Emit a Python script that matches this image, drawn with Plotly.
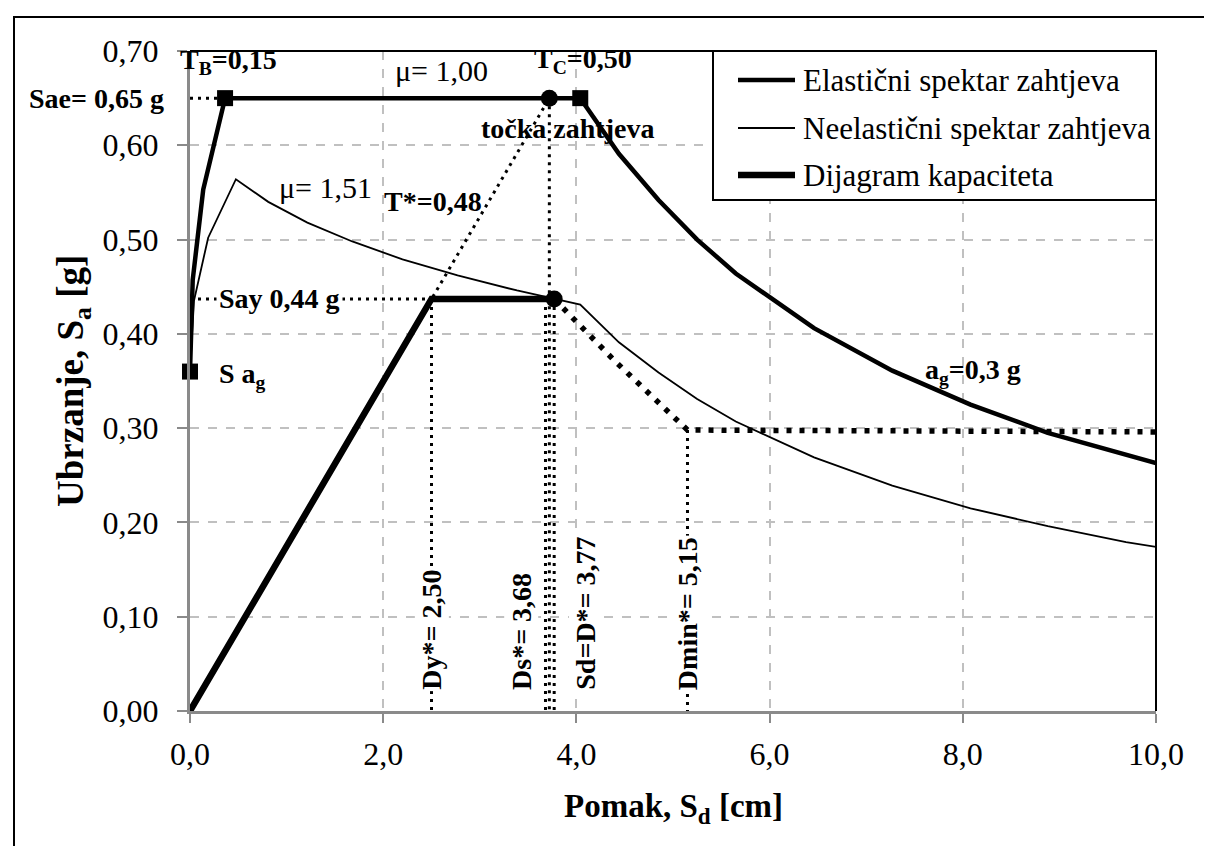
import plotly.graph_objects as go

# ---------------- data ----------------
elastic_sd = [0.0, 0.028, 0.137, 0.363, 4.04, 4.44, 4.85, 5.25, 5.65, 6.46, 7.27, 8.08, 8.88, 9.69, 10.0]
elastic_sa = [0.36, 0.457, 0.553, 0.65, 0.65, 0.591, 0.542, 0.500, 0.464, 0.406, 0.361, 0.325, 0.295, 0.271, 0.263]

inelastic_sd = [0.0, 0.041, 0.188, 0.475, 0.81, 1.215, 1.68, 2.20, 2.77, 3.385, 4.04,
                4.44, 4.85, 5.25, 5.65, 6.46, 7.27, 8.08, 8.88, 9.69, 10.0]
inelastic_sa = [0.36, 0.435, 0.502, 0.564, 0.540, 0.518, 0.498, 0.479, 0.462, 0.446, 0.431,
                0.391, 0.359, 0.331, 0.307, 0.269, 0.239, 0.215, 0.196, 0.179, 0.174]

capacity_sd = [0.0, 2.50, 3.77]
capacity_sa = [0.0, 0.437, 0.437]

demand_sd = [3.77, 4.40, 5.15, 10.0]
demand_sa = [0.437, 0.371, 0.298, 0.296]

tstar_sd = [0.0, 3.72]
tstar_sa = [0.0, 0.65]

square_sd = [0.0, 0.363, 4.04]
square_sa = [0.36, 0.65, 0.65]

circle_sd = [3.72, 3.77]
circle_sa = [0.65, 0.437]

# guide lines (x pairs, y pairs)
guide_x = [[0.0, 0.363], [0.0, 3.77], [2.50, 2.50], [3.68, 3.68], [3.72, 3.72], [3.77, 3.77], [5.15, 5.15]]
guide_y = [[0.65, 0.65], [0.437, 0.437], [0.437, 0.0], [0.437, 0.0], [0.65, 0.0], [0.437, 0.0], [0.298, 0.0]]

x_ticks = [0, 2, 4, 6, 8, 10]
x_ticktext = ["0,0", "2,0", "4,0", "6,0", "8,0", "10,0"]
y_ticks = [0.0, 0.1, 0.2, 0.3, 0.4, 0.5, 0.6, 0.7]
y_ticktext = ["0,00", "0,10", "0,20", "0,30", "0,40", "0,50", "0,60", "0,70"]

legend_names = ["Elastični spektar zahtjeva", "Neelastični spektar zahtjeva", "Dijagram kapaciteta"]

# ---------------- figure ----------------
SERIF = "Liberation Serif, Times New Roman, serif"
fig = go.Figure()

small_dot = dict(color="black", width=3, dash="3px,5px")
for gx, gy in zip(guide_x, guide_y):
    fig.add_trace(go.Scatter(x=gx, y=gy, mode="lines", line=small_dot, hoverinfo="skip", showlegend=False))

fig.add_trace(go.Scatter(x=tstar_sd, y=tstar_sa, mode="lines", line=small_dot, showlegend=False))
fig.add_trace(go.Scatter(x=demand_sd, y=demand_sa, mode="lines",
                         line=dict(color="black", width=5.5, dash="5px,8px"), showlegend=False))

fig.add_trace(go.Scatter(x=inelastic_sd, y=inelastic_sa, mode="lines", name=legend_names[1],
                         line=dict(color="black", width=1.8), showlegend=False, cliponaxis=False))
fig.add_trace(go.Scatter(x=elastic_sd, y=elastic_sa, mode="lines", name=legend_names[0],
                         line=dict(color="black", width=4.5), showlegend=False, cliponaxis=False))
fig.add_trace(go.Scatter(x=capacity_sd, y=capacity_sa, mode="lines", name=legend_names[2],
                         line=dict(color="black", width=6.5), showlegend=False, cliponaxis=False))
fig.add_trace(go.Scatter(x=square_sd, y=square_sa, mode="markers", cliponaxis=False,
                         marker=dict(symbol="square", size=16, color="black"), showlegend=False))
fig.add_trace(go.Scatter(x=circle_sd, y=circle_sa, mode="markers", cliponaxis=False,
                         marker=dict(symbol="circle", size=17, color="black"), showlegend=False))

fig.update_xaxes(range=[0, 10], tickvals=x_ticks, ticktext=x_ticktext, showgrid=True,
                 gridcolor="#c0c0c0", griddash="dash", gridwidth=1.5,
                 showline=True, linecolor="#8a8a8a", linewidth=3, zeroline=False,
                 ticks="outside", ticklen=9, tickwidth=2, tickcolor="#8a8a8a",
                 tickfont=dict(family=SERIF, size=32, color="black"), ticklabelstandoff=4,
                 automargin=False)
fig.update_yaxes(range=[0, 0.7], tickvals=y_ticks, ticktext=y_ticktext, showgrid=True,
                 gridcolor="#c0c0c0", griddash="dash", gridwidth=1.5,
                 showline=True, linecolor="#8a8a8a", linewidth=3, zeroline=False,
                 ticks="outside", ticklen=10, tickwidth=2, tickcolor="#8a8a8a",
                 tickfont=dict(family=SERIF, size=32, color="black"), ticklabelstandoff=12,
                 automargin=False)

W, H = 1212, 846
L, R, T, B = 182, 64, 43, 143
pw, ph = W - L - R, H - T - B


def px_x(p):
    return (p - L) / pw


def px_y(p):
    return (H - B - p) / ph


shapes = []
# plot top/right border
shapes.append(dict(type="line", xref="paper", yref="paper", x0=0, x1=1, y0=1, y1=1,
                   line=dict(color="black", width=2), layer="above"))
shapes.append(dict(type="line", xref="paper", yref="paper", x0=1, x1=1, y0=0, y1=1,
                   line=dict(color="black", width=2), layer="above"))
# outer frame
shapes.append(dict(type="rect", xref="paper", yref="paper", x0=px_x(6), x1=px_x(1210),
                   y0=px_y(900), y1=px_y(9), line=dict(color="black", width=2), layer="above"))
# legend box
shapes.append(dict(type="rect", xref="paper", yref="paper", x0=px_x(705), x1=1.0,
                   y0=px_y(192), y1=1.0, fillcolor="white", line=dict(color="black", width=2),
                   layer="above"))
leg_rows = [72, 120, 167]
leg_widths = [4.5, 1.8, 6.5]
annotations = []
for name, row, lw in zip(legend_names, leg_rows, leg_widths):
    shapes.append(dict(type="line", xref="paper", yref="paper", x0=px_x(730), x1=px_x(787),
                       y0=px_y(row), y1=px_y(row), line=dict(color="black", width=lw), layer="above"))
    annotations.append(dict(xref="paper", yref="paper", x=px_x(793), y=px_y(row), text=name,
                            showarrow=False, xanchor="left", yanchor="middle",
                            font=dict(family=SERIF, size=31, color="black")))

BOLD = dict(family=SERIF, size=28, color="black")
REG = dict(family=SERIF, size=30, color="black")


def lab(x, y, text, font=BOLD, xanchor="center", bg=None, **kw):
    d = dict(x=x, y=y, xref="x", yref="y", text=text, showarrow=False, xanchor=xanchor,
             yanchor="middle", font=font)
    if bg:
        d["bgcolor"] = bg
        d["borderpad"] = 2
    d.update(kw)
    annotations.append(d)


lab(0.40, 0.689, "<b>T<sub>B</sub>=0,15</b>")
lab(2.60, 0.679, "μ= 1,00", font=REG)
lab(4.07, 0.690, "<b>T<sub>C</sub>=0,50</b>")
lab(3.91, 0.618, "<b>točka zahtjeva</b>")
lab(1.40, 0.555, "μ= 1,51", font=REG)
lab(2.52, 0.540, "<b>T*=0,48</b>")
lab(0.27, 0.438, "<b>Say 0,44 g</b>", xanchor="left", bg="white")
lab(0.28, 0.356, "<b>S a<sub>g</sub></b>", xanchor="left")
lab(8.11, 0.360, "<b>a<sub>g</sub>=0,3 g</b>")
annotations.append(dict(xref="paper", yref="y", x=px_x(158), y=0.65, text="<b>Sae= 0,65 g</b>",
                        showarrow=False, xanchor="right", yanchor="middle", font=BOLD))

VFONT = dict(family=SERIF, size=28, color="black")
for xv, txt in [(2.50, "<b>Dy*= 2,50</b>"), (3.43, "<b>Ds*= 3,68</b>"),
                (4.10, "<b>Sd=D*= 3,77</b>"), (5.15, "<b>Dmin*= 5,15</b>")]:
    annotations.append(dict(x=xv, y=0.02, xref="x", yref="y", text=txt, showarrow=False,
                            textangle=-90, xanchor="center", yanchor="bottom", font=VFONT,
                            bgcolor="white", borderpad=1))

# axis titles
annotations.append(dict(xref="paper", yref="paper", x=0.5, y=px_y(800),
                        text="<b>Pomak, S<sub>d</sub> [cm]</b>", showarrow=False,
                        xanchor="center", yanchor="middle", font=dict(family=SERIF, size=33, color="black")))
annotations.append(dict(xref="paper", yref="paper", x=px_x(65), y=0.5,
                        text="<b>Ubrzanje, S<sub>a</sub> [g]</b>", showarrow=False, textangle=-90,
                        xanchor="center", yanchor="middle", font=dict(family=SERIF, size=37, color="black")))

fig.update_layout(width=W, height=H, autosize=False,
                  margin=dict(l=L, r=R, t=T, b=B, pad=0),
                  paper_bgcolor="white", plot_bgcolor="white",
                  showlegend=False, shapes=shapes, annotations=annotations,
                  font=dict(family=SERIF, color="black"))

fig.write_html("out.html")
